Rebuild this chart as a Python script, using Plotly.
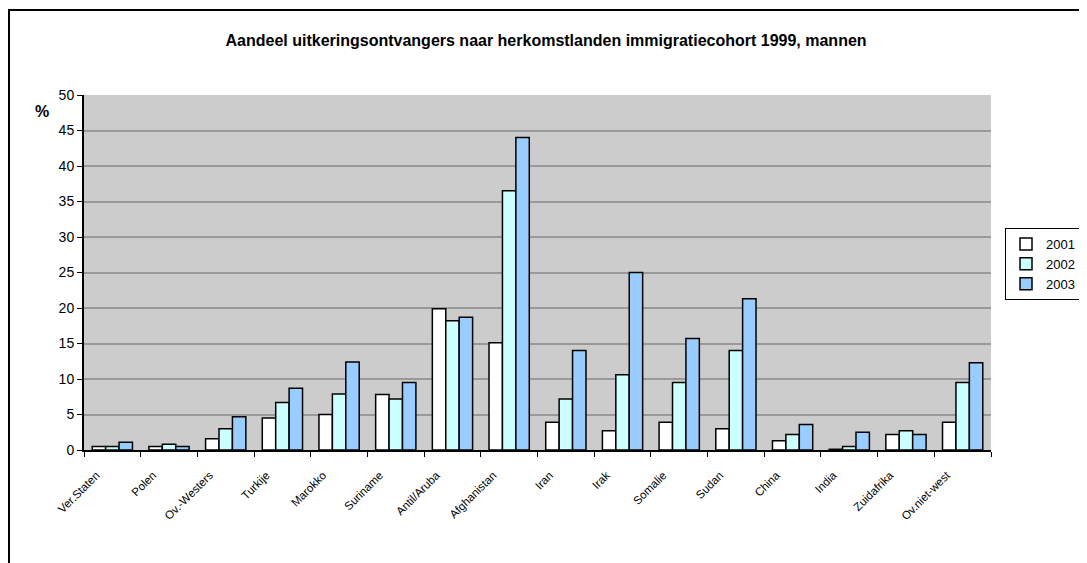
import plotly.graph_objects as go

countries = ["Ver.Staten", "Polen", "Ov.-Westers", "Turkije", "Marokko", "Suriname",
             "Antil/Aruba", "Afghanistan", "Iran", "Irak", "Somalie", "Sudan",
             "China", "India", "Zuidafrika", "Ov.niet-west"]
years = ["2001", "2002", "2003"]

share_2001 = [0.5, 0.5, 1.6, 4.5, 5.0, 7.8, 19.9, 15.1, 3.9, 2.7, 3.9, 3.0, 1.3, 0.1, 2.2, 3.9]
share_2002 = [0.5, 0.8, 3.0, 6.7, 7.9, 7.2, 18.2, 36.5, 7.2, 10.6, 9.5, 14.0, 2.2, 0.5, 2.7, 9.5]
share_2003 = [1.1, 0.5, 4.7, 8.7, 12.4, 9.5, 18.7, 44.0, 14.0, 25.0, 15.7, 21.3, 3.6, 2.5, 2.2, 12.3]

colors = ["#ffffff", "#ccffff", "#99ccff"]

fig = go.Figure()
for year, vals, col in zip(years, [share_2001, share_2002, share_2003], colors):
    fig.add_trace(go.Bar(
        x=countries,
        y=vals,
        name=year,
        marker=dict(color=col, line=dict(color="black", width=1.5)),
    ))

# the page body adds an 8px offset, so the margins are shifted by that amount
fig.update_layout(
    width=1087,
    height=563,
    barmode="group",
    bargap=0.29,
    bargroupgap=0,
    paper_bgcolor="white",
    plot_bgcolor="#cccccc",
    font=dict(family="Arial, Liberation Sans", color="black", size=12),
    margin=dict(l=76, r=104, t=87, b=121),
    title=dict(
        text="<b>Aandeel uitkeringsontvangers naar herkomstlanden immigratiecohort 1999, mannen</b>",
        xref="container", x=0.495, xanchor="center", y=1 - 32 / 563, yanchor="middle",
        font=dict(size=16),
    ),
    legend=dict(
        xref="container", yref="container",
        x=997 / 1087, xanchor="left", y=1 - 220 / 563, yanchor="top",
        bordercolor="black", borderwidth=1, bgcolor="white",
        font=dict(size=13), tracegroupgap=0, itemwidth=30,
    ),
    xaxis=dict(
        tickangle=-45,
        tickfont=dict(size=11.5),
        ticks="outside", tickson="boundaries", ticklen=5, tickcolor="black",
        ticklabelshift=-16, ticklabelstandoff=12,
        showline=True, linecolor="black", linewidth=2,
        showgrid=False,
    ),
    yaxis=dict(
        range=[0, 50], dtick=5,
        tickfont=dict(size=14),
        ticks="outside", ticklen=5, tickcolor="black",
        showline=True, linecolor="black", linewidth=2,
        gridcolor="#999999", gridwidth=2,
        zeroline=False,
    ),
    annotations=[dict(
        text="<b>%</b>", xref="paper", yref="paper", x=-0.056, y=0.983,
        showarrow=False, font=dict(size=16),
    )],
    shapes=[dict(
        type="rect", xref="paper", yref="paper",
        x0=(1 - 76) / 907, x1=1.3, y0=-0.5, y1=(442 - 2) / 355,
        line=dict(color="black", width=2), layer="below",
    )],
)

fig.write_html("out.html")
